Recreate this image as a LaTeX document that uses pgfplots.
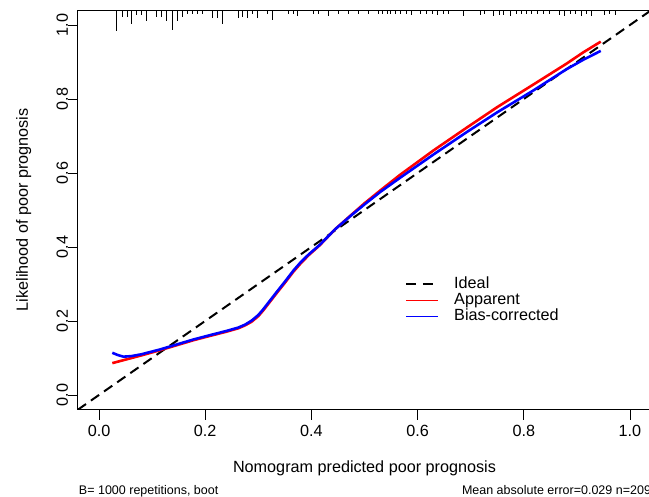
\documentclass[border=0pt]{standalone}
\usepackage{pgfplots}
\pgfplotsset{compat=1.18}
\usepackage{pgfplotstable}
\usepackage{fontspec}
\setmainfont{Liberation Sans}
\newcommand{\fs}{\fontsize{16.2bp}{19bp}\selectfont}
\newcommand{\fsmall}{\fontsize{12.5bp}{15bp}\selectfont}

\pgfplotstableread{
x y
0.025 0.086
0.046 0.094
0.080 0.107
0.115 0.121
0.150 0.136
0.178 0.148
0.210 0.160
0.240 0.171
0.262 0.180
0.275 0.188
0.2875 0.198
0.300 0.213
0.309 0.228
0.322 0.252
0.335 0.276
0.350 0.303
0.366 0.333
0.380 0.356
0.395 0.378
0.416 0.405
0.444 0.447
0.473 0.484
0.500 0.518
0.530 0.553
0.567 0.595
0.630 0.661
0.692 0.722
0.750 0.778
0.818 0.839
0.880 0.895
0.912 0.926
0.945 0.955
}\apparent

\pgfplotstableread{
x y
0.025 0.114
0.035 0.108
0.046 0.1035
0.061 0.105
0.080 0.110
0.115 0.123
0.150 0.138
0.178 0.150
0.210 0.162
0.240 0.173
0.262 0.182
0.275 0.190
0.2875 0.201
0.300 0.216
0.309 0.231
0.322 0.255
0.335 0.279
0.350 0.306
0.366 0.336
0.380 0.359
0.395 0.380
0.416 0.406
0.444 0.447
0.473 0.483
0.500 0.515
0.530 0.549
0.567 0.587
0.630 0.650
0.692 0.710
0.750 0.764
0.818 0.823
0.880 0.880
0.912 0.906
0.945 0.930
}\biascorr

\begin{document}
\begin{tikzpicture}
\begin{axis}[
  x=531bp, y=370bp,
  xmin=-0.04, xmax=1.04, ymin=-0.04, ymax=1.04,
  axis line style={line width=0.8bp, black},
  xtick={0,0.2,0.4,0.6,0.8,1},
  ytick={0,0.2,0.4,0.6,0.8,1},
  xticklabels={0.0,0.2,0.4,0.6,0.8,1.0},
  yticklabels={0.0,0.2,0.4,0.6,0.8,1.0},
  tick align=outside, xtick pos=bottom, ytick pos=left,
  major tick length=10bp,
  tick style={line width=0.8bp, black},
  ticklabel style={font=\fs},
  xticklabel style={anchor=base, yshift=-17bp},
  yticklabel style={anchor=base, rotate=90},
  legend style={at={(0.5707,0.3348)}, anchor=north west, draw=none, fill=none,
    inner sep=0pt, column sep=15bp, row sep=0pt, font=\fs,
    nodes={inner sep=0pt, text height=12.5bp, text depth=3.5bp}},
  legend cell align=left,
  legend image code/.code={\draw[#1] (0bp,0bp) -- (32bp,0bp);},
]
\addplot[forget plot, black, line width=2bp, dash pattern=on 10bp off 6bp] coordinates {(-0.04,-0.04) (1.04,1.04)};
\addplot[forget plot, black, line width=1bp, mark=none, unbounded coords=jump] coordinates {
(0.0333,1.04) (0.0333,0.983) (0.0333,nan)
(0.0439,1.04) (0.0439,1.021) (0.0439,nan)
(0.0527,1.04) (0.0527,1.021) (0.0527,nan)
(0.0616,1.04) (0.0616,1.002) (0.0616,nan)
(0.0710,1.04) (0.0710,1.028) (0.0710,nan)
(0.0804,1.04) (0.0804,1.028) (0.0804,nan)
(0.0898,1.04) (0.0898,1.010) (0.0898,nan)
(0.1087,1.04) (0.1087,1.021) (0.1087,nan)
(0.1181,1.04) (0.1181,1.021) (0.1181,nan)
(0.1275,1.04) (0.1275,1.010) (0.1275,nan)
(0.1380,1.04) (0.1380,0.986) (0.1380,nan)
(0.1475,1.04) (0.1475,1.010) (0.1475,nan)
(0.1569,1.04) (0.1569,1.021) (0.1569,nan)
(0.1663,1.04) (0.1663,1.030) (0.1663,nan)
(0.1757,1.04) (0.1757,1.030) (0.1757,nan)
(0.1851,1.04) (0.1851,1.030) (0.1851,nan)
(0.1945,1.04) (0.1945,1.030) (0.1945,nan)
(0.2134,1.04) (0.2134,1.018) (0.2134,nan)
(0.2228,1.04) (0.2228,1.018) (0.2228,nan)
(0.2322,1.04) (0.2322,1.002) (0.2322,nan)
(0.2623,1.04) (0.2623,1.018) (0.2623,nan)
(0.2699,1.04) (0.2699,1.021) (0.2699,nan)
(0.2793,1.04) (0.2793,1.018) (0.2793,nan)
(0.2887,1.04) (0.2887,1.030) (0.2887,nan)
(0.2989,1.04) (0.2989,1.018) (0.2989,nan)
(0.3169,1.04) (0.3169,1.030) (0.3169,nan)
(0.3264,1.04) (0.3264,1.013) (0.3264,nan)
(0.3565,1.04) (0.3565,1.030) (0.3565,nan)
(0.3659,1.04) (0.3659,1.030) (0.3659,nan)
(0.3734,1.04) (0.3734,1.024) (0.3734,nan)
(0.4036,1.04) (0.4036,1.030) (0.4036,nan)
(0.4130,1.04) (0.4130,1.030) (0.4130,nan)
(0.4318,1.04) (0.4318,1.024) (0.4318,nan)
(0.4507,1.04) (0.4507,1.030) (0.4507,nan)
(0.4695,1.04) (0.4695,1.030) (0.4695,nan)
(0.4883,1.04) (0.4883,1.030) (0.4883,nan)
(0.5072,1.04) (0.5072,1.030) (0.5072,nan)
(0.5260,1.04) (0.5260,1.030) (0.5260,nan)
(0.5343,1.04) (0.5343,1.030) (0.5343,nan)
(0.5424,1.04) (0.5424,1.030) (0.5424,nan)
(0.5499,1.04) (0.5499,1.030) (0.5499,nan)
(0.5593,1.04) (0.5593,1.030) (0.5593,nan)
(0.5687,1.04) (0.5687,1.030) (0.5687,nan)
(0.5782,1.04) (0.5782,1.030) (0.5782,nan)
(0.5876,1.04) (0.5876,1.027) (0.5876,nan)
(0.6064,1.04) (0.6064,1.030) (0.6064,nan)
(0.6177,1.04) (0.6177,1.030) (0.6177,nan)
(0.6290,1.04) (0.6290,1.030) (0.6290,nan)
(0.6384,1.04) (0.6384,1.027) (0.6384,nan)
(0.6497,1.04) (0.6497,1.030) (0.6497,nan)
(0.6591,1.04) (0.6591,1.030) (0.6591,nan)
(0.6874,1.04) (0.6874,1.024) (0.6874,nan)
(0.7194,1.04) (0.7194,1.027) (0.7194,nan)
(0.7269,1.04) (0.7269,1.030) (0.7269,nan)
(0.7439,1.04) (0.7439,1.024) (0.7439,nan)
(0.7552,1.04) (0.7552,1.028) (0.7552,nan)
(0.7627,1.04) (0.7627,1.028) (0.7627,nan)
(0.7759,1.04) (0.7759,1.024) (0.7759,nan)
(0.7872,1.04) (0.7872,1.030) (0.7872,nan)
(0.7966,1.04) (0.7966,1.030) (0.7966,nan)
(0.8060,1.04) (0.8060,1.030) (0.8060,nan)
(0.8154,1.04) (0.8154,1.030) (0.8154,nan)
(0.8249,1.04) (0.8249,1.030) (0.8249,nan)
(0.8362,1.04) (0.8362,1.030) (0.8362,nan)
(0.8475,1.04) (0.8475,1.030) (0.8475,nan)
(0.8682,1.04) (0.8682,1.028) (0.8682,nan)
(0.8776,1.04) (0.8776,1.024) (0.8776,nan)
(0.8889,1.04) (0.8889,1.030) (0.8889,nan)
(0.8983,1.04) (0.8983,1.030) (0.8983,nan)
(0.9096,1.04) (0.9096,1.024) (0.9096,nan)
(0.9190,1.04) (0.9190,1.030) (0.9190,nan)
(0.9284,1.04) (0.9284,1.024) (0.9284,nan)
(0.9529,1.04) (0.9529,1.028) (0.9529,nan)
(0.9623,1.04) (0.9623,1.030) (0.9623,nan)
(0.9736,1.04) (0.9736,1.028)
};
\addplot[forget plot, red, line width=2.6bp, line join=round] table[x=x, y=y] {\apparent};
\addplot[forget plot, blue, line width=2.6bp, line join=round] table[x=x, y=y] {\biascorr};
\addlegendimage{black, line width=2bp, dash pattern=on 10bp off 6.7bp}
\addlegendentry{Ideal}
\addlegendimage{red, line width=1bp}
\addlegendentry{Apparent}
\addlegendimage{blue, line width=1bp}
\addlegendentry{Bias-corrected}
\coordinate (SW) at (rel axis cs:0,0);
\coordinate (NE) at (rel axis cs:1,1);
\coordinate (L) at (rel axis cs:0,0.5);
\coordinate (B) at (rel axis cs:0.5,0);
\coordinate (BR) at (rel axis cs:1,0);
\end{axis}
\node[rotate=90, anchor=base, font=\fs] at ([xshift=-50bp]L) {Likelihood of poor prognosis};
\node[anchor=base, font=\fs] at ([yshift=-63bp]B) {Nomogram predicted poor prognosis};
\node[anchor=base west, font=\fsmall, inner sep=0pt] at ([shift={(1bp,-84.7bp)}]SW) {B= 1000 repetitions, boot};
\node[anchor=base east, font=\fsmall, inner sep=0pt] at ([yshift=-84.7bp]BR) {Mean absolute error=0.029 n=209};
\pgfresetboundingbox
\path[use as bounding box] ([shift={(-77.8bp,-87.2bp)}]SW) rectangle ([shift={(-2.2bp,10.2bp)}]NE);
\end{tikzpicture}
\end{document}
